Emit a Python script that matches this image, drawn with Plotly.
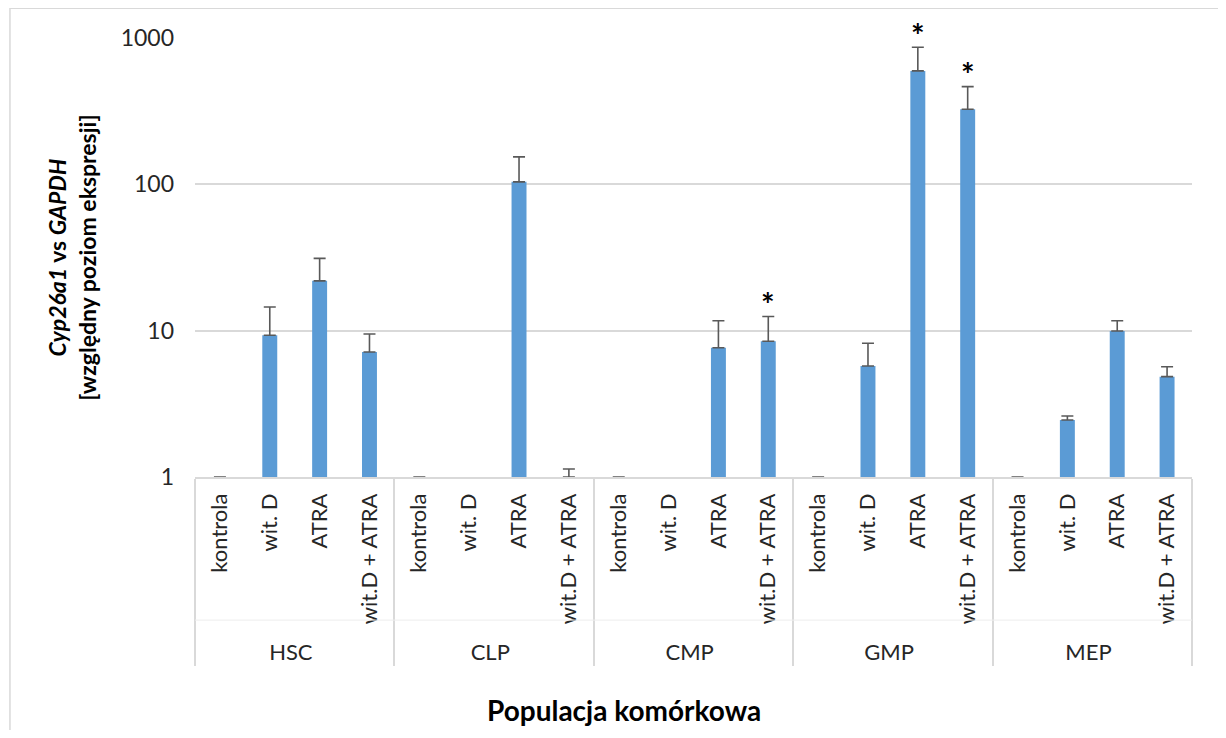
import math
import plotly.graph_objects as go

populations = ["HSC", "CLP", "CMP", "GMP", "MEP"]
treatments = ["kontrola", "wit. D", "ATRA", "wit.D + ATRA"]

# mean relative expression (Cyp26a1 vs GAPDH) per population, in treatment order
hsc_vals = [1.0, 9.3, 21.9, 7.15]
clp_vals = [1.0, None, 104.0, 1.0]
cmp_vals = [1.0, 0.96, 7.65, 8.46]
gmp_vals = [1.0, 5.74, 596.0, 326.0]
mep_vals = [1.0, 2.45, 9.95, 4.85]

# top of the error bar (mean + error)
hsc_upper = [1.0, 14.5, 31.2, 9.5]
clp_upper = [1.0, None, 154.0, 1.135]
cmp_upper = [1.0, 0.96, 11.7, 12.5]
gmp_upper = [1.0, 8.2, 865.0, 465.0]
mep_upper = [1.0, 2.61, 11.7, 5.67]

# significance marks
hsc_sig = [False, False, False, False]
clp_sig = [False, False, False, False]
cmp_sig = [False, False, False, True]
gmp_sig = [False, False, True, True]
mep_sig = [False, False, False, False]

y_ticks = [1, 10, 100, 1000]

vals_all = [hsc_vals, clp_vals, cmp_vals, gmp_vals, mep_vals]
upper_all = [hsc_upper, clp_upper, cmp_upper, gmp_upper, mep_upper]
sig_all = [hsc_sig, clp_sig, cmp_sig, gmp_sig, mep_sig]

xg, xt, yv, ye, sig = [], [], [], [], []
for p, vals, ups, sg in zip(populations, vals_all, upper_all, sig_all):
    for t, v, u, s in zip(treatments, vals, ups, sg):
        xg.append(p)
        xt.append(t)
        yv.append(v)
        ye.append(None if (v is None or u is None) else max(u - v, 0.0))
        sig.append(s)

FONT = "Lato"
TXT = "#262626"
GRID = "#D9D9D9"

fig = go.Figure()
fig.add_trace(go.Bar(
    x=[xg, xt], y=yv,
    marker=dict(color="#5B9BD5", line=dict(width=0)),
    error_y=dict(type="data", array=ye, symmetric=False, arrayminus=[0] * len(ye),
                 color="#595959", thickness=1.6, width=6),
    showlegend=False,
))

annotations = []
for i, (s, v, e) in enumerate(zip(sig, yv, ye)):
    if s:
        annotations.append(dict(
            x=i, y=math.log10(v + e), xref="x", yref="y",
            text="<b>*</b>", showarrow=False, yanchor="middle", yshift=12,
            font=dict(family=FONT, size=32, color="#000000"),
        ))

# axis titles
annotations.append(dict(
    x=-0.124, y=0.5, xref="paper", yref="paper", textangle=-90,
    text="<b><i>Cyp26a1</i> vs <i>GAPDH</i></b><br><b>[względny poziom ekspresji]</b>",
    showarrow=False, font=dict(family=FONT, size=23, color="#000000"),
    xanchor="center", yanchor="middle",
))
annotations.append(dict(
    x=0.43, y=-0.574, xref="paper", yref="paper",
    text="<b>Populacja komórkowa</b>", showarrow=False,
    font=dict(family=FONT, size=28, color="#000000"),
    xanchor="center", yanchor="bottom",
))

shapes = [
    # outer chart border
    dict(type="rect", xref="paper", yref="paper", x0=-0.1856, x1=1.0271,
         y0=-0.75, y1=1.068, line=dict(color=GRID, width=1.5), layer="below"),
    # horizontal separator between label levels
    dict(type="line", xref="paper", yref="paper", x0=0, x1=1,
         y0=-0.326, y1=-0.326, line=dict(color="#EDEDED", width=1)),
]

fig.update_layout(
    width=1210, height=722,
    margin=dict(l=187, r=26, t=30, b=253),
    paper_bgcolor="white", plot_bgcolor="white",
    bargap=0.7,
    font=dict(family=FONT, size=22, color=TXT),
    annotations=annotations,
    shapes=shapes,
    xaxis=dict(
        type="multicategory", tickangle=-90,
        showline=True, linecolor=GRID, linewidth=1.5,
        showdividers=True, dividercolor=GRID, dividerwidth=1.5,
        ticks="", tickfont=dict(family=FONT, size=22, color=TXT),
        ticklabelstandoff=6,
        showgrid=False,
    ),
    yaxis=dict(
        type="log", range=[0, 3], tickvals=y_ticks,
        ticktext=[str(v) for v in y_ticks],
        showgrid=True, gridcolor=GRID, gridwidth=1.5,
        zeroline=False, showline=False, ticks="",
        tickfont=dict(family=FONT, size=23, color=TXT),
        ticklabelstandoff=20,
    ),
)

fig.write_html("out.html")
